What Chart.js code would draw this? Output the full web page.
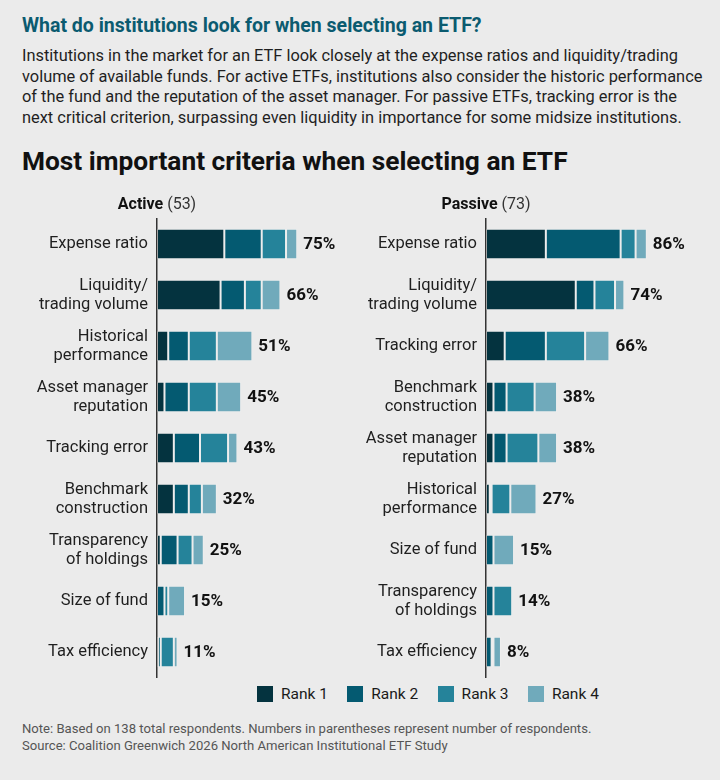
<!DOCTYPE html>
<html lang="en">

<head>
    <meta charset="UTF-8">
    <title>Most important criteria when selecting an ETF</title>
    <script src="https://cdn.jsdelivr.net/npm/chart.js"></script>
    <style>
        body {
            margin: 0;
            width: 720px;
            height: 780px;
            background: #ebebeb;
            font-family: Roboto, "Noto Sans", sans-serif;
            color: #1a1a1a;
            position: relative;
            overflow: hidden;
        }

        .abs {
            position: absolute;
        }

        #kicker {
            left: 22px;
            top: 14px;
            font-size: 19.5px;
            line-height: 24px;
            font-weight: bold;
            color: #0b5b70;
        }

        #intro {
            left: 22px;
            top: 46px;
            font-size: 16.4px;
            line-height: 20.7px;
            color: #1f1f1f;
        }

        #title {
            left: 22px;
            top: 146px;
            font-size: 26.3px;
            line-height: 30px;
            font-weight: bold;
            color: #111;
        }

        .panel {
            top: 190px;
            width: 360px;
            height: 490px;
        }

        #legend {
            left: 257px;
            top: 685px;
            display: flex;
            font-size: 15.5px;
        }

        .item {
            display: flex;
            align-items: center;
            width: 90.3px;
        }

        .swatch {
            width: 16px;
            height: 16px;
            margin-right: 8px;
        }

        #notes {
            left: 22px;
            top: 720px;
            font-size: 13.1px;
            line-height: 17px;
            color: #555;
        }
    </style>
</head>

<body>
    <div class="abs" id="kicker">What do institutions look for when selecting an ETF?</div>
    <div class="abs" id="intro">
        Institutions in the market for an ETF look closely at the expense ratios and liquidity/trading<br>
        volume of available funds. For active ETFs, institutions also consider the historic performance<br>
        of the fund and the reputation of the asset manager. For passive ETFs, tracking error is the<br>
        next critical criterion, surpassing even liquidity in importance for some midsize institutions.
    </div>
    <div class="abs" id="title">Most important criteria when selecting an ETF</div>

    <div class="abs panel" style="left:0px"><canvas id="activeChart"></canvas></div>
    <div class="abs panel" style="left:360px"><canvas id="passiveChart"></canvas></div>

    <div class="abs" id="legend"></div>

    <div class="abs" id="notes">
        Note: Based on 138 total respondents. Numbers in parentheses represent number of respondents.<br>
        Source: Coalition Greenwich 2026 North American Institutional ETF Study
    </div>

    <script>
        // Data (percent of respondents ranking each criterion)
        const rankNames = ['Rank 1', 'Rank 2', 'Rank 3', 'Rank 4'];
        const rankColors = ['#04333f', '#045a71', '#25839a', '#70aabb'];

        const activeCategories = ['Expense ratio', ['Liquidity/', 'trading volume'], ['Historical', 'performance'],
            ['Asset manager', 'reputation'], 'Tracking error', ['Benchmark', 'construction'],
            ['Transparency', 'of holdings'], 'Size of fund', 'Tax efficiency'];
        const activeRank1 = [36, 34, 6, 4, 9, 9, 2, 0, 0.5];
        const activeRank2 = [20, 13, 11, 13, 14, 8, 9, 4, 1.5];
        const activeRank3 = [13, 9, 15, 15, 15, 7, 8, 2, 7];
        const activeRank4 = [6, 10, 19, 13, 5, 8, 6, 9, 2];
        const activeTotals = [75, 66, 51, 45, 43, 32, 25, 15, 11];

        const passiveCategories = ['Expense ratio', ['Liquidity/', 'trading volume'], 'Tracking error',
            ['Benchmark', 'construction'], ['Asset manager', 'reputation'], ['Historical', 'performance'],
            'Size of fund', ['Transparency', 'of holdings'], 'Tax efficiency'];
        const passiveRank1 = [32, 48, 10, 4, 4, 2, 0, 0, 0];
        const passiveRank2 = [40, 10, 22, 7, 7, 1, 4, 4, 3];
        const passiveRank3 = [8, 11, 21, 15, 17, 10, 0, 10, 1];
        const passiveRank4 = [6, 5, 13, 12, 10, 14, 11, 0, 4];
        const passiveTotals = [86, 74, 66, 38, 38, 27, 15, 14, 8];

        const FONT = 'Roboto, "Noto Sans", sans-serif';

        // Draws the "Active (53)" heading and the total at the end of each bar
        const extrasPlugin = {
            id: 'extras',
            afterDatasetsDraw(chart, args, opts) {
                const ctx = chart.ctx;
                const area = chart.chartArea;
                const x = chart.scales.x;
                const y = chart.scales.y;
                ctx.save();

                // heading, centred on the axis line
                ctx.textBaseline = 'middle';
                ctx.font = 'bold 16px ' + FONT;
                const w1 = ctx.measureText(opts.name).width;
                ctx.font = '16px ' + FONT;
                const w2 = ctx.measureText(' ' + opts.count).width;
                let hx = area.left - (w1 + w2) / 2;
                ctx.fillStyle = '#111';
                ctx.textAlign = 'left';
                ctx.font = 'bold 16px ' + FONT;
                ctx.fillText(opts.name, hx, 15);
                ctx.font = '16px ' + FONT;
                ctx.fillStyle = '#333';
                ctx.fillText(' ' + opts.count, hx + w1, 15);

                // totals
                ctx.font = 'bold 17px ' + FONT;
                ctx.fillStyle = '#111';
                opts.totals.forEach((t, i) => {
                    ctx.fillText(t + '%', x.getPixelForValue(t) + 6, y.getPixelForValue(i) + 1);
                });
                ctx.restore();
            }
        };

        function makeChart(id, categories, ranks, totals, name, count, axisWidth, rightPad) {
            const datasets = ranks.map((vals, i) => ({
                label: rankNames[i],
                data: vals,
                backgroundColor: rankColors[i],
                borderColor: 'rgba(255,255,255,0.18)',
                borderWidth: 1,
                borderSkipped: false,
                barPercentage: 0.6,
                categoryPercentage: 1
            }));

            return new Chart(document.getElementById(id), {
                type: 'bar',
                data: { labels: categories, datasets: datasets },
                options: {
                    indexAxis: 'y',
                    responsive: true,
                    maintainAspectRatio: false,
                    animation: false,
                    layout: { padding: { top: 28.5, bottom: 2.5, right: rightPad, left: 0 } },
                    plugins: {
                        legend: { display: false },
                        tooltip: { enabled: false },
                        extras: { name: name, count: count, totals: totals }
                    },
                    scales: {
                        x: {
                            stacked: true,
                            min: 0,
                            max: 100,
                            display: false
                        },
                        y: {
                            stacked: true,
                            grid: { display: false, drawTicks: false },
                            border: { display: true, color: '#333', width: 1.5 },
                            ticks: {
                                color: '#1f1f1f',
                                padding: 9,
                                font: { family: FONT, size: 16.5, lineHeight: 19 / 16.5 }
                            },
                            afterFit(scale) {
                                scale.width = axisWidth;
                                scale.paddingTop = 0;
                                scale.paddingBottom = 0;
                            }
                        }
                    }
                },
                plugins: [extrasPlugin]
            });
        }

        makeChart('activeChart', activeCategories,
            [activeRank1, activeRank2, activeRank3, activeRank4], activeTotals,
            'Active', '(53)', 157, 16);
        makeChart('passiveChart', passiveCategories,
            [passiveRank1, passiveRank2, passiveRank3, passiveRank4], passiveTotals,
            'Passive', '(73)', 126, 47);

        // HTML legend
        const legend = document.getElementById('legend');
        rankNames.forEach((n, i) => {
            const item = document.createElement('div');
            item.className = 'item';
            item.innerHTML = '<span class="swatch" style="background:' + rankColors[i] + '"></span>' + n;
            legend.appendChild(item);
        });
    </script>
</body>

</html>
